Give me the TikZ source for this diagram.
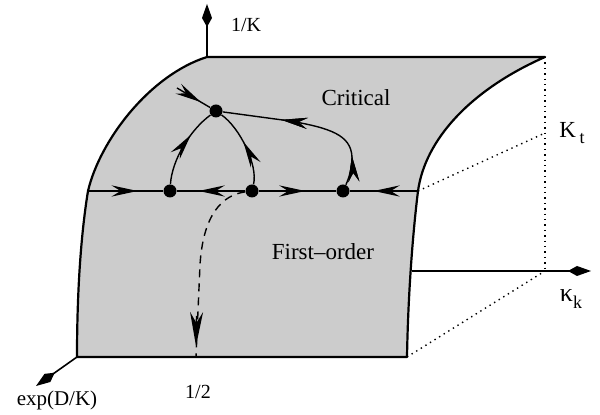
\documentclass[tikz,border=0pt]{standalone}
\usepackage{fontspec}
\setmainfont{Liberation Serif}
\usetikzlibrary{arrows.meta,decorations.markings}
\definecolor{surf}{gray}{0.8}
\begin{document}
\begin{tikzpicture}[x=0.5pt,y=-0.5pt,
  fp/.style={circle,fill=black,inner sep=0pt,minimum size=6.5pt},
  flow/.style={line width=0.7pt},
  edgeline/.style={line width=1.1pt,line join=round},
  axis/.style={line width=0.8pt,-{Kite[length=11.5pt,width=5pt,inset=4.5pt]}},
  guide/.style={line width=0.7pt,dotted},
  midarrow/.style={postaction={decorate},decoration={markings,
     mark=at position #1 with {\arrow{Stealth[length=13pt,width=5.6pt,inset=4.5pt]}}}},
  lbl/.style={inner sep=0pt,font=\fontsize{10}{12}\selectfont},
  region/.style={inner sep=0pt,font=\fontsize{11.5}{14}\selectfont}
]
\useasboundingbox (0,0) rectangle (600,415);
% corners
\coordinate (TL) at (207,57);
\coordinate (TR) at (545,57);
\coordinate (ML) at (88,191);
\coordinate (MR) at (418,191);
\coordinate (BL) at (77,357);
\coordinate (BR) at (407,357);
\coordinate (KA) at (412,271);
\coordinate (KC) at (545,271);
\coordinate (KT) at (545,133);
% surface
\fill[surf] (TL) -- (TR) .. controls (470,90) and (425,140) .. (MR)
  .. controls (412,240) and (408,300) .. (BR) -- (BL)
  .. controls (77,300) and (80,240) .. (ML)
  .. controls (100,140) and (150,75) .. (TL) -- cycle;
\draw[edgeline] (TL) -- (TR) .. controls (470,90) and (425,140) .. (MR)
  .. controls (412,240) and (408,300) .. (BR) -- (BL)
  .. controls (77,300) and (80,240) .. (ML)
  .. controls (100,140) and (150,75) .. (TL);
% axes
\coordinate (Ytip) at (207,4);
\coordinate (Xtip) at (591,271);
\coordinate (Ztip) at (36,386);
\draw[axis] (TL) -- (Ytip);
\draw[axis] (KA) -- (Xtip);
\draw[axis] (BL) -- (Ztip);
% dotted guides
\draw[guide] (TR) -- (KC);
\draw[guide] (MR) -- (KT);
\draw[guide] (BR) -- (KC);
% labels
\node[lbl] (l1K) at (246,25) {1/K};
\node[lbl,font=\fontsize{10.5}{12}\selectfont] (lexp) at (57,400) {exp(D/K)};
\node[lbl] (lhalf) at (198,392) {1/2};
\node[inner sep=0pt,font=\fontsize{11.5}{14}\selectfont] (lKt) at (572,133) {K\,\raisebox{-0.6ex}{\fontsize{9}{10}\selectfont t}};
\node[inner sep=0pt,font=\fontsize{13}{14}\selectfont] (lkap) at (571,299) {κ\raisebox{-0.6ex}{\fontsize{9}{10}\selectfont k}};
\node[region] (lcrit) at (356,98) {Critical};
\node[region] (lfirst) at (323,252) {First–order};
% fixed points
\node[fp] (P) at (216,111) {};
\node[fp] (A) at (170,191) {};
\node[fp] (B) at (252,191) {};
\node[fp] (C) at (343,191) {};
% flows on the transition line
\draw[flow,midarrow=0.66] (ML) -- (A);
\draw[flow,midarrow=0.68] (B) -- (A);
\draw[flow,midarrow=0.6] (B) -- (C);
\draw[flow,midarrow=0.65] (MR) -- (C);
% flows in the critical surface
\coordinate (Q) at (177,88);
\draw[flow,midarrow=0.72] (Q) -- (P);
\draw[flow,midarrow=0.66] (A) .. controls (172,160) and (190,130) .. (P);
\draw[flow,midarrow=0.56] (B) .. controls (258,165) and (240,128) .. (P);
\coordinate (Cb) at (352,157);
\coordinate (Cc) at (290,121);
\draw[flow,midarrow=0.17,midarrow=0.66] (C) .. controls (349,178) and (352,168) .. (Cb)
  .. controls (351,135) and (330,128) .. (Cc) -- (P);
% dashed flow into first-order region
\coordinate (E) at (196,357);
\draw[flow,dashed,dash pattern=on 4pt off 3pt] (B) .. controls (222,195) and (203,215) .. (200,265) -- (E);
\coordinate (Ea) at (196.5,316);
\coordinate (Eb) at (196,346);
\draw[flow,-{Stealth[length=17pt,width=6.5pt,inset=5.5pt]}] (Ea) -- (Eb);
\end{tikzpicture}
\end{document}
